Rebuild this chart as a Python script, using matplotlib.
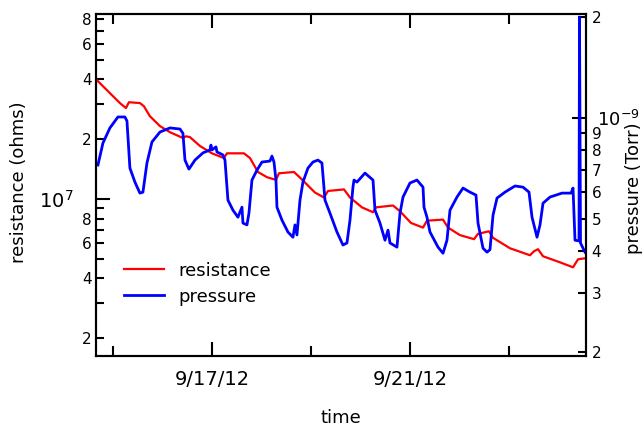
import numpy as np
import matplotlib
matplotlib.use('Agg')
import matplotlib.pyplot as plt
import matplotlib.dates as mdates
from matplotlib.ticker import FixedLocator, FixedFormatter
from datetime import datetime

plt.rcParams['font.family'] = ['DejaVu Sans']

# time in days since 9/15/12 00:00
res_days = [-0.323, -0.061, 0.141, 0.263, 0.323, 0.545, 0.626, 0.747, 0.949, 1.152,
            1.414, 1.475, 1.556, 1.758, 2.0, 2.242, 2.303, 2.646, 2.768, 2.929,
            3.111, 3.293, 3.354, 3.657, 3.798, 4.081, 4.263, 4.343, 4.667, 4.788,
            5.030, 5.253, 5.313, 5.657, 5.798, 6.020, 6.263, 6.343, 6.667, 6.768,
            7.010, 7.293, 7.374, 7.596, 7.677, 8.020, 8.424, 8.505, 8.586, 8.687,
            9.030, 9.293, 9.394, 9.535]
res_ohms = [3.96e7, 3.41e7, 3.04e7, 2.87e7, 3.07e7, 3.04e7, 2.93e7, 2.61e7, 2.33e7, 2.17e7,
            2.03e7, 2.07e7, 2.05e7, 1.85e7, 1.70e7, 1.61e7, 1.70e7, 1.70e7, 1.61e7, 1.37e7,
            1.29e7, 1.25e7, 1.35e7, 1.37e7, 1.27e7, 1.08e7, 1.02e7, 1.10e7, 1.12e7, 1.02e7,
            9.1e6, 8.6e6, 9.1e6, 9.3e6, 8.7e6, 7.6e6, 7.2e6, 7.8e6, 7.9e6, 7.2e6,
            6.6e6, 6.3e6, 6.7e6, 6.9e6, 6.4e6, 5.67e6, 5.23e6, 5.48e6, 5.61e6, 5.17e6,
            4.82e6, 4.55e6, 4.99e6, 5.05e6]

pres_days = [-0.303, -0.202, -0.061, 0.101, 0.242, 0.283, 0.343, 0.444, 0.545, 0.606,
             0.687, 0.788, 0.949, 1.152, 1.354, 1.414, 1.455, 1.535, 1.657, 1.818,
             1.960, 1.980, 2.0, 2.081, 2.101, 2.222, 2.263, 2.323, 2.424, 2.525,
             2.606, 2.626, 2.707, 2.747, 2.808, 2.909, 3.010, 3.172, 3.212, 3.253,
             3.293, 3.313, 3.414, 3.535, 3.636, 3.677, 3.717, 3.778, 3.838, 3.939,
             4.040, 4.141, 4.222, 4.283, 4.384, 4.525, 4.646, 4.727, 4.788, 4.848,
             4.869, 4.929, 5.091, 5.253, 5.293, 5.394, 5.495, 5.556, 5.596, 5.737,
             5.798, 5.859, 6.0, 6.141, 6.263, 6.283, 6.343, 6.404, 6.566, 6.667,
             6.747, 6.808, 6.949, 7.071, 7.212, 7.333, 7.374, 7.475, 7.556, 7.616,
             7.677, 7.758, 7.919, 8.121, 8.283, 8.404, 8.465, 8.566, 8.626, 8.687,
             8.828, 9.071, 9.253, 9.293, 9.333, 9.414, 9.424, 9.444, 9.535]
pres_torr = [0.724, 0.842, 0.934, 1.007, 1.007, 0.98, 0.709, 0.644, 0.597, 0.601,
             0.734, 0.848, 0.908, 0.934, 0.927, 0.90, 0.749, 0.704, 0.749, 0.787,
             0.803, 0.83, 0.803, 0.82, 0.792, 0.776, 0.749, 0.569, 0.531, 0.506,
             0.542, 0.486, 0.480, 0.520, 0.653, 0.699, 0.739, 0.744, 0.77, 0.739,
             0.653, 0.542, 0.496, 0.457, 0.441, 0.480, 0.448, 0.569, 0.644, 0.709,
             0.739, 0.749, 0.734, 0.569, 0.520, 0.457, 0.418, 0.424, 0.496, 0.622,
             0.653, 0.644, 0.685, 0.653, 0.531, 0.486, 0.432, 0.463, 0.424, 0.412,
             0.520, 0.581, 0.640, 0.653, 0.622, 0.542, 0.506, 0.457, 0.412, 0.395,
             0.432, 0.531, 0.581, 0.618, 0.601, 0.589, 0.486, 0.409, 0.398, 0.405,
             0.513, 0.577, 0.601, 0.627, 0.622, 0.601, 0.506, 0.441, 0.480, 0.557,
             0.581, 0.597, 0.597, 0.618, 0.432, 0.43, 2.0, 0.424, 0.398]
pres_torr = [p * 1e-9 for p in pres_torr]

t0 = mdates.date2num(datetime(2012, 9, 15))

fig = plt.figure(figsize=(6.44, 4.29), dpi=100)
ax = fig.add_axes([0.149, 0.170, 0.761, 0.797])
ax2 = ax.twinx()

l1, = ax.plot(t0 + np.array(res_days), res_ohms, color='red', lw=1.6, label='resistance')
l2, = ax2.plot(t0 + np.array(pres_days), pres_torr, color='blue', lw=2.0, label='pressure')

ax.set_xlim(t0 - 0.343, t0 + 9.556)

# left axis
ax.set_yscale('log')
ax.set_ylim(1.63e6, 8.5e7)
ax.yaxis.set_major_locator(FixedLocator([1e7]))
ax.yaxis.set_major_formatter(FixedFormatter([r'$\mathdefault{10^{7}}$']))
ax.yaxis.set_minor_locator(FixedLocator([k * 1e6 for k in range(2, 10)] + [k * 1e7 for k in range(2, 9)]))
ax.yaxis.set_minor_formatter(FixedFormatter(['2', '', '4', '', '6', '', '8', '',
                                             '2', '', '4', '', '6', '', '8']))
ax.tick_params(axis='y', which='major', direction='in', length=10, width=1.5,
               labelsize=14, right=False, pad=16)
ax.tick_params(axis='y', which='minor', direction='in', length=6, width=1.5,
               labelsize=11, right=False, pad=3)

# x axis
ax.xaxis.set_major_locator(FixedLocator([t0 + 2, t0 + 6]))
ax.xaxis.set_major_formatter(FixedFormatter(['9/17/12', '9/21/12']))
ax.xaxis.set_minor_locator(FixedLocator([t0, t0 + 4, t0 + 8]))
ax.tick_params(axis='x', which='major', direction='in', length=10, width=1.5,
               top=True, labelsize=14, pad=10)
ax.tick_params(axis='x', which='minor', direction='in', length=7, width=1.5, top=True)

# right axis
ax2.set_yscale('log')
ax2.set_ylim(1.95e-10, 2.04e-9)
ax2.yaxis.set_major_locator(FixedLocator([1e-9]))
ax2.yaxis.set_major_formatter(FixedFormatter([r'$\mathdefault{10^{-9}}$']))
ax2.yaxis.set_minor_locator(FixedLocator([k * 1e-10 for k in range(2, 10)] + [2e-9]))
ax2.yaxis.set_minor_formatter(FixedFormatter(['2', '3', '4', '5', '6', '7', '8', '9', '2']))
ax2.tick_params(axis='y', which='major', direction='in', length=10, width=1.5,
                labelsize=13, left=False, pad=8)
ax2.tick_params(axis='y', which='minor', direction='in', length=6, width=1.5,
                labelsize=11, left=False, pad=4)

for a in (ax, ax2):
    for s in a.spines.values():
        s.set_linewidth(1.5)

ax.set_xlabel('time', fontsize=13)
ax.xaxis.set_label_coords(0.5, -0.155)
ax.set_ylabel('resistance (ohms)', fontsize=13)
ax.yaxis.set_label_coords(-0.139, 0.51)
ax2.set_ylabel('pressure (Torr)', fontsize=13)
ax2.yaxis.set_label_coords(1.08, 0.49)

ax2.legend(handles=[l1, l2], loc='lower left', bbox_to_anchor=(0.025, 0.1),
           frameon=False, fontsize=13, handlelength=2.2, labelspacing=0.45,
           handletextpad=0.8)

fig.savefig('out.png', dpi=100)
